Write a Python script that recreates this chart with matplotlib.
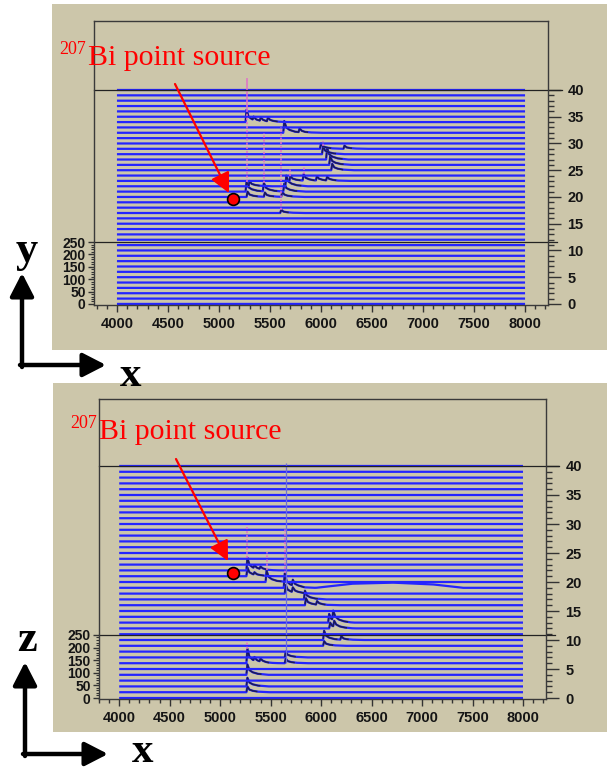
import numpy as np
import matplotlib.pyplot as plt
from matplotlib.patches import Rectangle
from matplotlib.ticker import FixedLocator

# canvas in pixels
W, H = 611, 771
BEIGE = "#ccc6aa"
BLUE = "#2424ff"
DARK = "#1c1c55"
PINK = "#e070c8"

# one spectrum per detector strip
rows = list(range(41))
x_ticks = [4000, 4500, 5000, 5500, 6000, 6500, 7000, 7500, 8000]
z_ticks = [0, 5, 10, 15, 20, 25, 30, 35, 40]
count_ticks = [0, 50, 100, 150, 200, 250]

# peak shape (offset in channels, fraction of height)
tail_dx = np.array([-10, 0, 20, 50, 100, 200])
tail_frac = np.array([0, 1, 0.45, 0.25, 0.1, 0])

# top panel (x-y scan): strip, channel, height, spike top (in strip units)
top_row = [34, 34, 34, 34, 32, 32, 29, 29, 28, 27, 26, 25,
           23, 23, 23, 23, 22, 22, 21, 21, 21, 20, 20, 20, 17]
top_ch = [5270, 5340, 5410, 5480, 5640, 5790, 6000, 6230, 6020, 6060, 6090, 6110,
          5700, 5830, 5960, 6060, 5660, 5300, 5270, 5440, 5640, 5280, 5450, 5620, 5610]
top_h = [2.3, 0.6, 0.6, 0.7, 2.2, 0.7, 1.0, 0.6, 1.5, 2.2, 1.6, 1.2,
         1.0, 1.2, 0.8, 0.7, 2.0, 1.0, 1.8, 1.6, 1.5, 1.0, 0.8, 1.0, 0.6]
top_spike = [8.2, 0, 0, 0, 0, 0, 0, 0, 2.5, 0, 0, 0,
             2.3, 2.8, 0, 0, 0, 0, 21.2, 11, 0, 0, 0, 0, 16]

# bottom panel (x-z scan)
bot_row = [22, 22, 22, 21, 21, 20, 19, 19, 18, 18, 17, 16, 16,
           13, 13, 12, 12, 10, 10, 9, 7, 6, 6, 6, 6, 4, 2, 1]
bot_ch = [5270, 5340, 5400, 5270, 5340, 5460, 5640, 5720, 5650, 5720, 5840, 5850, 5960,
          6080, 6120, 6090, 6130, 6030, 6200, 6030, 5650, 5270, 5340, 5400, 5650, 5270, 5270, 5270]
bot_h = [2.2, 0.5, 0.4, 1.5, 0.4, 2.0, 2.5, 1.0, 1.5, 0.8, 1.5, 1.2, 0.6,
         1.5, 1.6, 1.0, 1.0, 1.6, 0.6, 0.8, 1.0, 2.5, 0.6, 0.5, 0.8, 1.8, 1.5, 1.0]
bot_spike = [7.4, 0, 0, 0, 0, 5.2, 10.3, 0, 0, 0, 0, 0, 0,
             0, 0, 0, 0, 0, 0, 0, 0, 3.6, 0, 0, 0, 0, 0, 0]
# broad bump on strip 19 and the thin line at 5650 up to the top strip
hump_row = 19
hump_ch = [5950, 6300, 6700, 7100, 7400]
hump_h = [0, 0.7, 0.9, 0.6, 0]
thin_ch, thin_from, thin_to = 5650, 6, 40.5

grid = np.arange(4000, 8001, 2)

fig = plt.figure(figsize=(W / 100, H / 100), dpi=100)


def px_axes(l, t, r, b):
    return fig.add_axes([l / W, 1 - b / H, (r - l) / W, (b - t) / H])


bg = px_axes(0, 0, W, H)
bg.set_xlim(0, W), bg.set_ylim(H, 0), bg.axis("off")
bg.add_patch(Rectangle((52, 4), 555, 346, fc=BEIGE, ec="none"))
bg.add_patch(Rectangle((53, 383), 554, 349, fc=BEIGE, ec="none"))

tick_font = dict(family="Liberation Sans", weight="bold", size=10.5)


def draw_panel(box, xlim, ylim, k, p_row, p_ch, p_h, p_spike, hump=None, thin=None):
    ax = px_axes(*box)
    ax.set_zorder(1)
    ax.set_facecolor("none")
    ax.set_xlim(xlim)
    ax.set_ylim(ylim)

    for r in rows:
        y = np.zeros_like(grid, dtype=float)
        for rr, c, h in zip(p_row, p_ch, p_h):
            if rr == r:
                y += np.interp(grid, c + tail_dx, h * tail_frac, left=0, right=0)
        dark = np.ma.masked_where(y < 0.12, r + y)
        if hump is not None and hump[0] == r:
            y += np.interp(grid, hump[1], hump[2], left=0, right=0)
        ax.plot(grid, r + y, color=BLUE, lw=1.6, solid_capstyle="butt")
        ax.plot(grid, dark, color=DARK, lw=1.1)

    for rr, c, h, s in zip(p_row, p_ch, p_h, p_spike):
        if s > h:
            ax.vlines(c, rr + h, rr + s, colors=PINK, linestyles=(0, (1.5, 1.2)), lw=1.1)
    if thin is not None:
        ax.vlines(thin[0], thin[1], thin[2], colors="#6f6fd8", lw=0.9)

    # z = 40 plane edge and the 250-count level
    yt = ax.get_yaxis_transform()
    ax.plot([0, 1.03], [40, 40], transform=yt, color="#222", lw=0.9, clip_on=False)
    ax.plot([0, 1.02], [250 / k, 250 / k], transform=yt, color="#222", lw=0.9, clip_on=False)

    for s in ax.spines.values():
        s.set_color("#3a3a3a")
        s.set_linewidth(1.0)

    ax.yaxis.tick_right()
    ax.set_yticks(z_ticks)
    ax.yaxis.set_minor_locator(FixedLocator([i for i in rows if i % 5]))
    ax.tick_params(axis="y", which="major", length=9, width=1, color="#333", pad=5)
    ax.tick_params(axis="y", which="minor", length=4.5, width=1, color="#333")
    ax.set_xticks(x_ticks)
    ax.xaxis.set_minor_locator(FixedLocator(range(3800, 8201, 100)))
    ax.tick_params(axis="x", which="major", length=5, width=1, color="#333", pad=4)
    ax.tick_params(axis="x", which="minor", length=3, width=1, color="#333")
    for lab in ax.get_xticklabels() + ax.get_yticklabels():
        lab.set(**tick_font, color="#151515")

    sec = ax.secondary_yaxis("left", functions=(lambda z: z * k, lambda c: c / k))
    sec.spines["left"].set_visible(False)
    sec.set_yticks(count_ticks)
    sec.yaxis.set_minor_locator(FixedLocator(range(0, 251, 10)))
    sec.tick_params(which="major", length=4, width=1, color="#333", pad=2)
    sec.tick_params(which="minor", length=2, width=0.8, color="#333")
    for lab in sec.get_yticklabels():
        lab.set(**tick_font, color="#151515")
        lab.set_fontsize(10)
    return ax


draw_panel((94, 21, 548, 305), (3775, 8225), (-0.2, 52.9), 21.6,
           top_row, top_ch, top_h, top_spike)
draw_panel((99, 399, 546, 699), (3800, 8228), (-0.17, 51.55), 23.0,
           bot_row, bot_ch, bot_h, bot_spike,
           hump=(hump_row, hump_ch, hump_h), thin=(thin_ch, thin_from, thin_to))

fg = px_axes(0, 0, W, H)
fg.set_zorder(5)
fg.set_xlim(0, W), fg.set_ylim(H, 0), fg.axis("off")

red_head = "-|>,head_length=0.6,head_width=0.3"
for x207, xb, base, tail, tip, dot in [(59, 88, 65, (175, 84), (229, 193), (233, 199)),
                                       (70, 99, 439, (176, 459), (228, 561), (233, 573))]:
    fg.text(x207, base - 11, "207", color="red", fontsize=13, family="Liberation Serif", va="baseline")
    fg.text(xb, base, "Bi point source", color="red", fontsize=21.5, family="Liberation Serif", va="baseline")
    fg.annotate("", xy=tip, xytext=tail,
                arrowprops=dict(arrowstyle=red_head, color="red", lw=1.6, mutation_scale=20, shrinkA=0, shrinkB=0))
    fg.plot(*dot, "o", ms=8.5, mfc="red", mec="black", mew=1.2)

blk_head = "-|>,head_length=0.7,head_width=0.36"
for cx, cy, top_y, right_x, lab, lab_xy, x_xy in [(22, 365, 273, 106, "y", (27, 262), (131, 386)),
                                                   (25, 754, 662, 108, "z", (27, 651), (143, 762))]:
    fg.annotate("", xy=(cx, top_y), xytext=(cx, cy + 2),
                arrowprops=dict(arrowstyle=blk_head, color="black", lw=3.2, mutation_scale=20, shrinkA=0, shrinkB=0))
    fg.annotate("", xy=(right_x, cy), xytext=(cx - 2, cy),
                arrowprops=dict(arrowstyle=blk_head, color="black", lw=3.2, mutation_scale=20, shrinkA=0, shrinkB=0))
    fg.text(*lab_xy, lab, fontsize=32, weight="bold", family="Liberation Serif", ha="center", va="baseline")
    fg.text(*x_xy, "x", fontsize=31, weight="bold", family="Liberation Serif", ha="center", va="baseline")

fig.savefig("out.png", dpi=100)
